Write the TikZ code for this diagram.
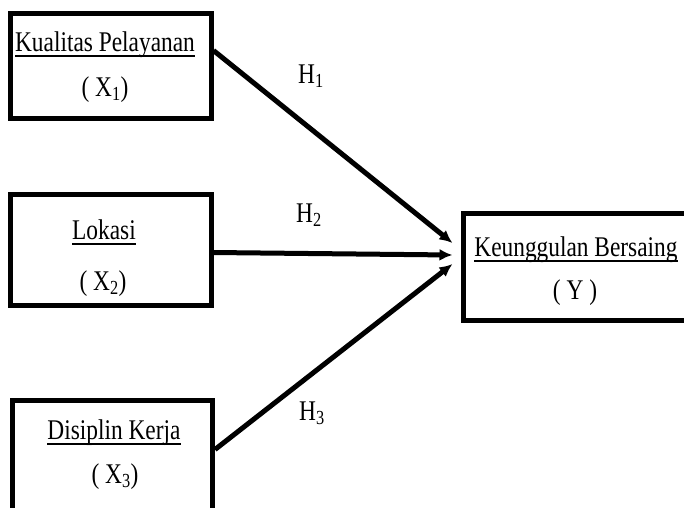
\documentclass[tikz,border=0pt]{standalone}
\usepackage{fontspec}
\setmainfont[FakeStretch=0.82]{Liberation Serif}
\usetikzlibrary{arrows.meta,calc}
\newcommand\myul[1]{\setbox0\hbox{#1}\rlap{\rule[-5.5pt]{\wd0}{1.6pt}}\box0}
\begin{document}
\begin{tikzpicture}[x=1pt,y=-1pt,
  box/.style={draw, line width=5pt, inner sep=0pt},
  txt/.style={inner sep=0pt, anchor=base, font=\fontsize{28.5}{34}\selectfont},
  arr/.style={line width=5pt, -{Latex[length=13pt,width=12pt]}}]
\clip (0,0) rectangle (684,507);
\fill[white] (0,0) rectangle (684,507);
% boxes
\node[box, minimum width=201pt, minimum height=105pt] (b1) at (110.5,65.5) {};
\node[box, minimum width=201pt, minimum height=111pt] (b2) at (110.5,249.5) {};
\node[box, minimum width=200pt, minimum height=120pt] (b3) at (112.5,460) {};
\node[box, minimum width=227pt, minimum height=107pt] (by) at (577,266.5) {};
% texts
\node[txt] (k1) at (105,51) {\myul{Kualitas Pelayanan}};
\node[txt] (x1) at (105,96) {( X\textsubscript{1})};
\node[txt] (k2) at (104,239) {\myul{Lokasi}};
\node[txt] (x2) at (103,290) {( X\textsubscript{2})};
\node[txt] (k3) at (114,439) {\myul{Disiplin Kerja}};
\node[txt] (x3) at (115,483) {( X\textsubscript{3})};
\node[txt] (ky) at (576,256) {\myul{Keunggulan Bersaing}};
\node[txt] (xy) at (575,299) {( Y )};
% hypothesis labels
\node[txt] (h1) at (311,83) {H\textsubscript{1}};
\node[txt] (h2) at (309,222) {H\textsubscript{2}};
\node[txt] (h3) at (312,420) {H\textsubscript{3}};
% connector end points
\coordinate (s1) at ($(b1.north east)+(0,40)$);
\coordinate (s2) at ($(b2.north east)+(0,61)$);
\coordinate (s3) at ($(b3.north east)+(0,52)$);
\coordinate (t1) at ($(by.west)+(-8.5,-23.5)$);
\coordinate (t2) at ($(by.west)+(-8.5,-11.5)$);
\coordinate (t3) at ($(by.west)+(-8.5,-2.5)$);
\draw[arr] (s1) -- (t1);
\draw[arr] (s2) -- (t2);
\draw[arr] (s3) -- (t3);
\end{tikzpicture}
\end{document}
